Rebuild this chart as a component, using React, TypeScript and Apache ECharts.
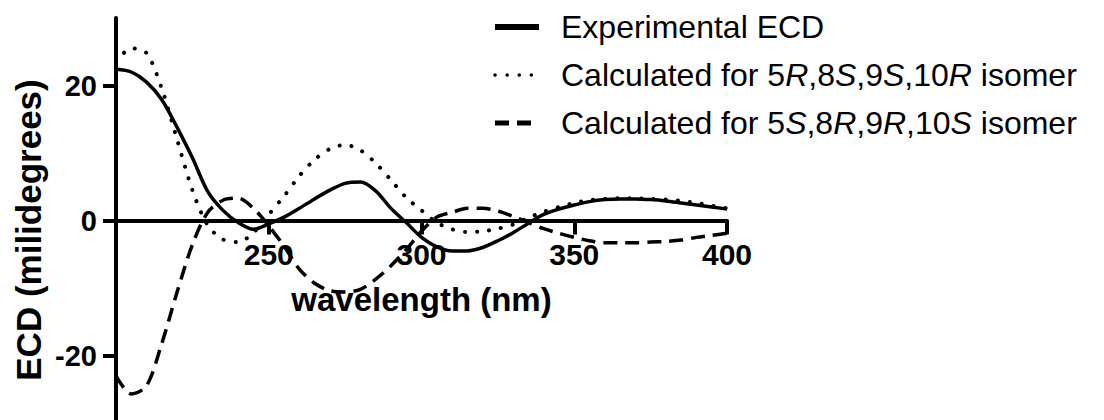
import React, { useEffect, useRef } from "react";
import * as echarts from "echarts";

const wavelengths = [
  200, 205, 210, 215, 220, 225, 230, 235, 240, 245, 250, 255, 260, 265, 270, 275, 280, 285, 290, 295,
  300, 305, 310, 315, 320, 325, 330, 335, 340, 345, 350, 355, 360, 365, 370, 375, 380, 385, 390, 395, 400,
];
const experimental = [
  22.4, 22.0, 20.5, 17.9, 13.8, 9.3, 4.3, 1.5, -0.3, -1.3, -0.5, 0.5, 1.8, 3.2, 4.5, 5.5, 5.7, 4.4, 1.8, -0.3,
  -2.5, -3.9, -4.5, -4.5, -4.0, -3.0, -1.8, -0.4, 0.9, 1.7, 2.3, 2.8, 3.1, 3.2, 3.2, 3.1, 2.9, 2.6, 2.3, 2.0, 1.7,
];
const calcRSSR = [
  23.5, 25.5, 24.8, 19.5, 12.0, 4.5, -0.7, -2.8, -3.2, -1.8, 0.9, 3.6, 6.6, 9.0, 10.6, 11.2, 10.4, 8.5, 6.0, 3.4,
  1.5, -0.3, -1.3, -1.7, -1.6, -1.2, -0.6, 0.4, 1.3, 2.0, 2.6, 3.0, 3.2, 3.3, 3.3, 3.2, 3.1, 2.9, 2.6, 2.2, 1.8,
];
const calcSRRS = [
  -23.0, -25.7, -24.5, -18.2, -10.6, -3.6, 1.2, 3.0, 3.3, 1.8, -0.8, -3.8, -7.2, -9.3, -10.4, -10.6, -10.2, -8.7, -6.7, -4.3,
  -1.6, 0.5, 1.2, 1.8, 1.8, 1.4, 0.6, -0.3, -1.2, -1.9, -2.5, -3.0, -3.3, -3.3, -3.3, -3.2, -3.1, -2.9, -2.5, -2.2, -1.9,
];
const xTicks = [250, 300, 350, 400];
const yTicks = [-20, 0, 20];
const seriesNames = [
  "Experimental ECD",
  "Calculated for 5R,8S,9S,10R isomer",
  "Calculated for 5S,8R,9R,10S isomer",
];
const legendRich = [
  "Experimental ECD",
  "Calculated for 5{i|R},8{i|S},9{i|S},10{i|R} isomer",
  "Calculated for 5{i|S},8{i|R},9{i|R},10{i|S} isomer",
];
const xTitle = "wavelength (nm)";
const yTitle = "ECD (milidegrees)";

const FONT = "'Liberation Sans', Arial, Helvetica, sans-serif";

export default function App() {
  const ref = useRef<HTMLDivElement>(null);
  useEffect(() => {
    if (!ref.current) return;
    const chart = echarts.init(ref.current, null, { renderer: "svg" });
    const mk = (vals: number[]) => wavelengths.map((w, i) => [w, vals[i]]);
    const lineW = 3.5;
    chart.setOption({
      animation: false,
      backgroundColor: "#ffffff",
      grid: { left: 116, right: 377, top: 18, height: 405, outerBoundsMode: "none", containLabel: false },
      legend: {
        orient: "vertical",
        left: 492,
        top: 10,
        padding: 0,
        itemGap: 14,
        itemWidth: 44,
        itemHeight: 34,
        itemStyle: { opacity: 0 },
        data: [
          { name: seriesNames[0], lineStyle: { width: 6 } },
          { name: seriesNames[1], lineStyle: { width: 3.5 } },
          { name: seriesNames[2], lineStyle: { width: 5 } },
        ],
        formatter: (name: string) => legendRich[seriesNames.indexOf(name)],
        textStyle: {
          fontFamily: FONT,
          fontSize: 32,
          color: "#000",
          lineHeight: 34,
          padding: [0, 0, 0, 17],
          rich: {
            i: { fontFamily: FONT, fontSize: 32, fontStyle: "italic", color: "#000", lineHeight: 34 },
          },
        },
      },
      xAxis: {
        type: "value",
        min: 200,
        max: 400,
        position: "bottom",
        offset: -202.5,
        name: xTitle,
        nameLocation: "middle",
        nameGap: 62,
        nameTextStyle: { fontFamily: FONT, fontSize: 33, fontWeight: "bold", color: "#000" },
        splitLine: { show: false },
        axisLine: { onZero: false, lineStyle: { color: "#000", width: 4 } },
        axisTick: { customValues: xTicks, length: 14, lineStyle: { color: "#000", width: 4 } },
        axisLabel: {
          customValues: xTicks,
          margin: 19,
          fontFamily: FONT,
          fontSize: 30,
          fontWeight: "bold",
          color: "#000",
        },
      },
      yAxis: {
        type: "value",
        min: -30,
        max: 30,
        splitLine: { show: false },
        axisLine: { onZero: false, lineStyle: { color: "#000", width: 4 } },
        axisTick: { customValues: yTicks, length: 13, lineStyle: { color: "#000", width: 4 } },
        axisLabel: {
          customValues: yTicks,
          margin: 19,
          fontFamily: FONT,
          fontSize: 29,
          fontWeight: "bold",
          color: "#000",
        },
      },
      graphic: [
        {
          type: "text",
          x: 28,
          y: 230,
          rotation: Math.PI / 2,
          style: {
            text: yTitle,
            font: `bold 35px ${FONT}`,
            fill: "#000",
            textAlign: "center",
            textVerticalAlign: "middle",
          },
        },
      ],
      series: [
        {
          name: seriesNames[0],
          type: "line",
          data: mk(experimental),
          smooth: 0.3,
          symbol: "none",
          lineStyle: { color: "#000", width: lineW },
          itemStyle: { color: "#000" },
          z: 3,
        },
        {
          name: seriesNames[1],
          type: "line",
          data: mk(calcRSSR),
          smooth: 0.3,
          symbol: "none",
          lineStyle: { color: "#000", width: 4, type: [0.1, 12], cap: "round" },
          itemStyle: { color: "#000" },
          z: 2,
        },
        {
          name: seriesNames[2],
          type: "line",
          data: mk(calcSRRS),
          smooth: 0.3,
          symbol: "none",
          lineStyle: { color: "#000", width: lineW, type: [14, 8] },
          itemStyle: { color: "#000" },
          z: 2,
        },
      ],
    });
    return () => chart.dispose();
  }, []);
  return (
    <div
      ref={ref}
      style={{ position: "fixed", left: 0, top: 0, width: 1104, height: 420, background: "#fff" }}
    />
  );
}
